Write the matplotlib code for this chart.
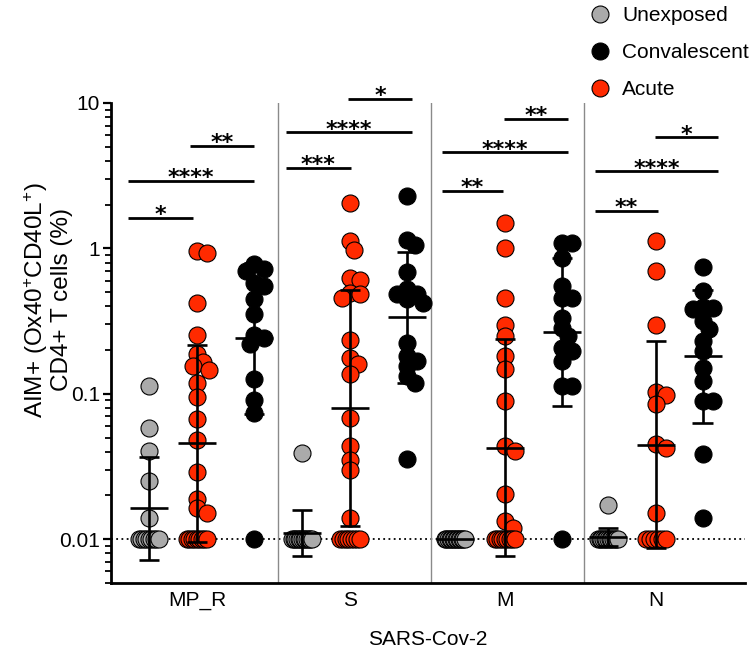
import numpy as np
import matplotlib
matplotlib.use('Agg')
import matplotlib.pyplot as plt
from matplotlib.lines import Line2D
from matplotlib.ticker import LogLocator, NullFormatter, FixedLocator, FixedFormatter

# ---------------- data ----------------
antigens = ['MP_R', 'S', 'M', 'N']
cohorts = ['Unexposed', 'Convalescent', 'Acute']
floor_value = 0.01

unexp_mpr = [0.113, 0.0586, 0.0404, 0.0252, 0.0141,
             0.01, 0.01, 0.01, 0.01, 0.01, 0.01, 0.01, 0.01, 0.01]
acute_mpr = [0.96, 0.93, 0.424, 0.252, 0.187, 0.165, 0.155, 0.145, 0.118, 0.095,
             0.0668, 0.0482, 0.029, 0.019, 0.0163, 0.0151,
             0.01, 0.01, 0.01, 0.01, 0.01, 0.01, 0.01, 0.01, 0.01]
conv_mpr = [0.776, 0.725, 0.698, 0.581, 0.551, 0.446, 0.352, 0.252, 0.243, 0.219,
            0.126, 0.0906, 0.0735, 0.01]

unexp_s = [0.039, 0.01, 0.01, 0.01, 0.01, 0.01, 0.01, 0.01, 0.01, 0.01, 0.01, 0.01, 0.01, 0.01]
acute_s = [2.04, 1.12, 0.973, 0.622, 0.605, 0.496, 0.483, 0.453, 0.234, 0.175, 0.160, 0.136,
           0.0686, 0.0438, 0.0349, 0.0298, 0.0141,
           0.01, 0.01, 0.01, 0.01, 0.01, 0.01, 0.01, 0.01]
conv_s = [2.29, 1.15, 1.06, 0.687, 0.523, 0.483, 0.483, 0.446, 0.424, 0.225, 0.182, 0.168,
          0.155, 0.133, 0.119, 0.0355]

unexp_m = [0.01, 0.01, 0.01, 0.01, 0.01, 0.01, 0.01, 0.01, 0.01, 0.01, 0.01, 0.01, 0.01, 0.01]
acute_m = [1.50, 1.01, 0.458, 0.297, 0.250, 0.182, 0.149, 0.0893, 0.0438, 0.0404, 0.0204,
           0.0134, 0.0120, 0.01, 0.01, 0.01, 0.01, 0.01, 0.01, 0.01, 0.01, 0.01]
conv_m = [1.09, 1.09, 0.863, 0.551, 0.458, 0.458, 0.334, 0.285, 0.250, 0.208, 0.197, 0.168,
          0.113, 0.113, 0.01]

unexp_n = [0.0171, 0.01, 0.01, 0.01, 0.01, 0.01, 0.01, 0.01, 0.01, 0.01, 0.01, 0.01, 0.01, 0.01]
acute_n = [1.12, 0.698, 0.296, 0.1035, 0.098, 0.0847, 0.0455, 0.0427, 0.0151,
           0.01, 0.01, 0.01, 0.01, 0.01, 0.01]
conv_n = [0.748, 0.509, 0.397, 0.391, 0.381, 0.316, 0.277, 0.231, 0.197, 0.151, 0.122,
          0.0893, 0.0893, 0.0384, 0.0141]

# significance labels per antigen: (Unexp vs Acute, Unexp vs Conv, Acute vs Conv)
sig_mpr = ['*', '****', '**']
sig_s = ['***', '****', '*']
sig_m = ['**', '****', '**']
sig_n = ['**', '****', '*']

# ---------------- layout / style ----------------
series = {
    'MP_R': {'Unexposed': unexp_mpr, 'Acute': acute_mpr, 'Convalescent': conv_mpr},
    'S': {'Unexposed': unexp_s, 'Acute': acute_s, 'Convalescent': conv_s},
    'M': {'Unexposed': unexp_m, 'Acute': acute_m, 'Convalescent': conv_m},
    'N': {'Unexposed': unexp_n, 'Acute': acute_n, 'Convalescent': conv_n},
}
sigs = {'MP_R': sig_mpr, 'S': sig_s, 'M': sig_m, 'N': sig_n}

colors = {'Unexposed': '#AAAAAA', 'Convalescent': '#000000', 'Acute': '#FF2A00'}
group_step = 3.0
acute_off = [0.94, 0.94, 0.98, 0.94]
conv_off = [2.06, 2.06, 2.10, 1.86]
# significance bar layout: (x_start, x_end, height) per comparison, offsets in group units
bar_layout = {
    'MP_R': [(-0.41, 0.86, 1.62), (-0.41, 2.06, 2.93), (0.80, 2.06, 5.1)],
    'S': [(-0.31, 0.96, 3.6), (-0.31, 2.16, 6.27), (0.90, 2.16, 10.7)],
    'M': [(-0.25, 0.94, 2.5), (-0.25, 2.22, 4.57), (0.96, 2.22, 7.8)],
    'N': [(-0.25, 0.98, 1.82), (-0.25, 2.16, 3.38), (0.92, 2.16, 5.8)],
}

plt.rcParams['font.family'] = ['Liberation Sans', 'DejaVu Sans']
plt.rcParams['mathtext.fontset'] = 'custom'
plt.rcParams['mathtext.rm'] = 'Liberation Sans'
plt.rcParams['mathtext.it'] = 'Liberation Sans:italic'
plt.rcParams['mathtext.bf'] = 'Liberation Sans:bold'

W, H = 751, 650
fig = plt.figure(figsize=(W / 100, H / 100), dpi=100)
ax = fig.add_axes([111 / W, 67 / H, 634 / W, 480 / H])
ax.set_yscale('log')
ax.set_ylim(0.005, 10)
ax.set_xlim(-0.745, 11.69)

for s in ['top', 'right']:
    ax.spines[s].set_visible(False)
for s in ['left', 'bottom']:
    ax.spines[s].set_linewidth(2.0)

ax.yaxis.set_major_locator(FixedLocator([0.01, 0.1, 1, 10]))
ax.yaxis.set_major_formatter(FixedFormatter(['0.01', '0.1', '1', '10']))
ax.yaxis.set_minor_locator(LogLocator(base=10, subs=np.arange(2, 10)))
ax.yaxis.set_minor_formatter(NullFormatter())
ax.tick_params(axis='y', which='major', length=6, width=1.6, labelsize=15, pad=2)
ax.tick_params(axis='y', which='minor', length=4.5, width=1.3)

tick_pos = [g * group_step + acute_off[g] for g in range(len(antigens))]
ax.set_xticks(tick_pos)
ax.set_xticklabels(antigens)
ax.tick_params(axis='x', length=0, labelsize=15, pad=6)
ax.set_xlabel('SARS-Cov-2', fontsize=15, labelpad=14)

ax.set_ylabel('AIM+ (Ox40$^{\\mathregular{+}}$CD40L$^{\\mathregular{+}}$)\nCD4+ T cells (%)',
              fontsize=17.5, linespacing=1.05)
ax.yaxis.set_label_coords(-0.060, 0.59)

# dotted floor line and separators
ax.axhline(floor_value, color='black', lw=1.3, ls=(0, (1, 1.9)), zorder=1)
for g in range(1, len(antigens)):
    ax.axvline(g * group_step - 0.47, color='#8a8a8a', lw=1.0, zorder=1)

marker_s = 150


def swarm_x(vals, xc, dmin=9.5):
    vals = np.asarray(vals, dtype=float)
    disp = ax.transData.transform(np.column_stack([np.full(len(vals), xc), vals]))
    x0 = disp[0, 0]
    ys = disp[:, 1]
    xs = np.full(len(vals), x0)
    fl = [i for i in range(len(vals)) if np.isclose(vals[i], floor_value)]
    k = len(fl)
    if k > 1:
        span = min(20.0, (k - 1) * 7.0)
        for i, o in zip(fl, np.linspace(-span / 2, span / 2, k)):
            xs[i] = x0 + o
    placed = []
    flset = set(fl)
    for i in np.argsort(-vals, kind='stable'):
        if i in flset:
            continue
        for step in range(200):
            o = ((step + 1) // 2) * 2.0 * (1 if step % 2 else -1)
            cx = x0 + o
            ok = all((cx - px) ** 2 + (ys[i] - py) ** 2 >= dmin ** 2 for px, py in placed)
            if ok:
                xs[i] = cx
                placed.append((cx, ys[i]))
                break
    back = ax.transData.inverted().transform(np.column_stack([xs, ys]))
    return back[:, 0]


def draw_errbar(vals, xc):
    lv = np.log10(np.asarray(vals, dtype=float))
    m = lv.mean()
    sd = lv.std(ddof=1)
    gm, lo, hi = 10 ** m, 10 ** (m - sd), 10 ** (m + sd)
    kw = dict(color='black', lw=1.9, solid_capstyle='butt', zorder=5)
    if sd > 0:
        ax.plot([xc, xc], [lo, hi], **kw)
        ax.plot([xc - 0.2, xc + 0.2], [lo, lo], **kw)
        ax.plot([xc - 0.2, xc + 0.2], [hi, hi], **kw)
    ax.plot([xc - 0.37, xc + 0.37], [gm, gm], **kw)


for g, ag in enumerate(antigens):
    base = g * group_step
    cols = {'Unexposed': base, 'Acute': base + acute_off[g], 'Convalescent': base + conv_off[g]}
    for coh in ['Unexposed', 'Acute', 'Convalescent']:
        vals = series[ag][coh]
        xs = swarm_x(vals, cols[coh])
        ax.scatter(xs, vals, s=marker_s, c=colors[coh], edgecolors='black',
                   linewidths=0.8, zorder=3, clip_on=False)
        draw_errbar(vals, cols[coh])
    for (x1, x2, yb), lab in zip(bar_layout[ag], sigs[ag]):
        ax.plot([base + x1, base + x2], [yb, yb], color='black', lw=2.0,
                solid_capstyle='butt', clip_on=False, zorder=5)
        ax.annotate(lab, xy=(base + (x1 + x2) / 2, yb), xytext=(0, -2.5),
                    textcoords='offset points', ha='center', va='baseline',
                    fontsize=16, fontfamily='DejaVu Sans', fontweight='bold',
                    annotation_clip=False)

handles = [Line2D([], [], marker='o', ls='', markersize=12.2, markerfacecolor=colors[c],
                  markeredgecolor='black', markeredgewidth=0.8) for c in cohorts]
ax.legend(handles, cohorts, loc='upper left', bbox_to_anchor=(589.6 / W, 1 - 6 / H),
          bbox_transform=fig.transFigure, frameon=False, fontsize=15, handlelength=1.0,
          handletextpad=0.56, labelspacing=0.86, borderpad=0, borderaxespad=0)

fig.savefig('out.png', dpi=100)
